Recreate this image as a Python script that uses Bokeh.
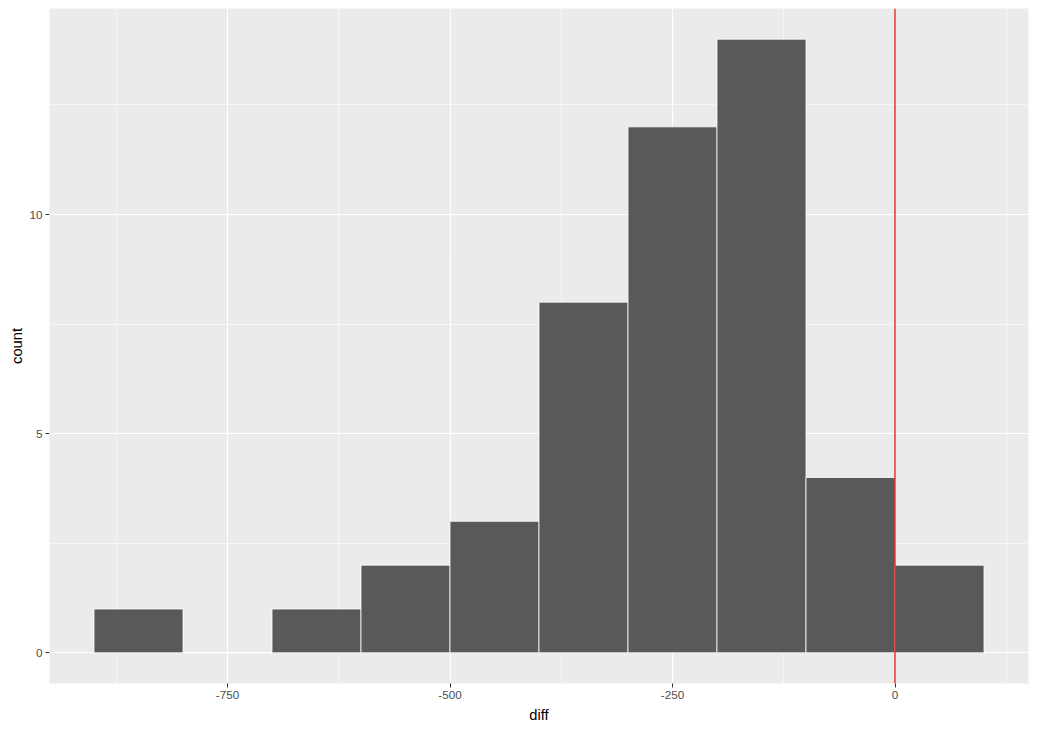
from bokeh.plotting import figure
from bokeh.models import FixedTicker, Span, Range1d
from bokeh.embed import file_html
from bokeh.resources import INLINE

# histogram data (binwidth 100)
bin_left = [-900, -800, -700, -600, -500, -400, -300, -200, -100, 0]
bin_right = [-800, -700, -600, -500, -400, -300, -200, -100, 0, 100]
counts = [1, 0, 1, 2, 3, 8, 12, 14, 4, 2]

x_ticks = [-750, -500, -250, 0]
x_tick_labels = ["-750", "-500", "-250", "0"]
x_minor = [-875, -625, -375, -125, 125]
y_ticks = [0, 5, 10]
y_tick_labels = ["0", "5", "10"]
y_minor = [2.5, 7.5, 12.5]
ref_line = 0

p = figure(width=1029, height=725, output_backend="svg", toolbar_location=None,
           x_range=Range1d(-950, 150), y_range=Range1d(-0.7, 14.7),
           min_border_top=8, min_border_right=1, min_border_left=49, min_border_bottom=42)

p.background_fill_color = "#EBEBEB"
p.border_fill_color = "white"
p.outline_line_color = None

p.quad(left=bin_left, right=bin_right, top=counts, bottom=[0] * len(counts),
       fill_color="#595959", line_color="white", line_width=0.8)

p.add_layout(Span(location=ref_line, dimension="height", line_color="#E00000", line_width=1.2))

p.xaxis.ticker = FixedTicker(ticks=x_ticks, minor_ticks=x_minor)
p.yaxis.ticker = FixedTicker(ticks=y_ticks, minor_ticks=y_minor)
p.xaxis.major_label_overrides = dict(zip(x_ticks, x_tick_labels))
p.yaxis.major_label_overrides = dict(zip(y_ticks, y_tick_labels))

for g in (p.xgrid, p.ygrid):
    g.grid_line_color = "white"
    g.grid_line_width = 1.1
    g.minor_grid_line_color = "white"
    g.minor_grid_line_width = 0.55

for ax in (p.xaxis, p.yaxis):
    ax.axis_line_color = None
    ax.major_tick_line_color = "#333333"
    ax.major_tick_in = 0
    ax.major_tick_out = 4
    ax.minor_tick_line_color = None
    ax.major_label_text_color = "#4D4D4D"
    ax.major_label_text_font = "Liberation Sans"
    ax.major_label_text_font_size = "11.7px"
    ax.major_label_standoff = 3
    ax.axis_label_text_font = "Liberation Sans"
    ax.axis_label_text_font_size = "14.7px"
    ax.axis_label_text_font_style = "normal"
    ax.axis_label_text_color = "black"
    ax.axis_label_standoff = 5

p.yaxis.axis_label_standoff = 1

p.xaxis.axis_label = "diff"
p.yaxis.axis_label = "count"

open("out.html", "w").write(file_html(p, INLINE))
